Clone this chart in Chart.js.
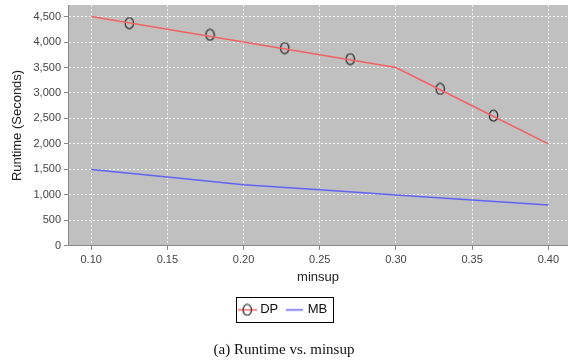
<!DOCTYPE html>
<html>
<head>
<meta charset="utf-8">
<script src="https://cdn.jsdelivr.net/npm/chart.js@4.4.1/dist/chart.umd.min.js"></script>
<style>
  body { margin: 0; background: #fff; }
  #runtimeChart { display: block; }
</style>
</head>
<body>
<canvas id="runtimeChart" width="568" height="362"></canvas>
<script>
// values
const minsup = [0.10, 0.15, 0.20, 0.25, 0.30, 0.35, 0.40];
const dpRuntime = [4500, 4250, 4000, 3750, 3500, 2750, 2000];
const mbRuntime = [1500, 1350, 1200, 1100, 1000, 900, 800];
// DP marker shapes sit along the line, between the vertices
const dpMarkerX = [0.125, 0.178, 0.227, 0.270, 0.329, 0.364];
const dpMarkerY = [4370, 4140, 3880, 3665, 3080, 2555];
const xTicks = [0.10, 0.15, 0.20, 0.25, 0.30, 0.35, 0.40];
const yTicks = [0, 500, 1000, 1500, 2000, 2500, 3000, 3500, 4000, 4500];

const sans = "'Liberation Sans', Arial, sans-serif";
const dpColor = '#f26262';
const mbColor = '#6262f6';

const makeEllipse = (w, h, withLine) => {
    const c = document.createElement('canvas');
    c.width = w;
    c.height = h;
    const ctx = c.getContext('2d');
    if (withLine) {
        ctx.strokeStyle = dpColor;
        ctx.lineWidth = 1.5;
        ctx.beginPath();
        ctx.moveTo(0, h / 2);
        ctx.lineTo(w, h / 2);
        ctx.stroke();
    }
    ctx.strokeStyle = '#1a1a1a';
    ctx.lineWidth = 1.1;
    ctx.beginPath();
    ctx.ellipse(w / 2, h / 2, 4.2, h / 2 - 1, 0, 0, Math.PI * 2);
    ctx.stroke();
    return c;
};

const makeLine = (w, h, color) => {
    const c = document.createElement('canvas');
    c.width = w;
    c.height = h;
    const ctx = c.getContext('2d');
    ctx.strokeStyle = color;
    ctx.lineWidth = 1.5;
    ctx.beginPath();
    ctx.moveTo(0, h / 2);
    ctx.lineTo(w, h / 2);
    ctx.stroke();
    return c;
};

const markerImg = makeEllipse(11, 13, false);
const dpLegendImg = makeEllipse(19, 13, true);
const mbLegendImg = makeLine(17, 13, mbColor);

const plotBackground = {
    id: 'plotBackground',
    beforeDraw(chart) {
        const { ctx, chartArea } = chart;
        ctx.save();
        ctx.fillStyle = '#c0c0c0';
        ctx.fillRect(chartArea.left, chartArea.top, chartArea.right - chartArea.left, chartArea.bottom - chartArea.top);
        ctx.restore();
    },
};

const legendFrame = {
    id: 'legendFrame',
    afterDraw(chart) {
        const boxes = chart.legend && chart.legend.legendHitBoxes;
        if (!boxes || !boxes.length) return;
        const left = Math.min(...boxes.map(b => b.left)) - 5;
        const right = Math.max(...boxes.map(b => b.left + b.width)) + 5;
        const top = Math.min(...boxes.map(b => b.top)) - 6;
        const bottom = Math.max(...boxes.map(b => b.top + b.height)) + 6;
        const ctx = chart.ctx;
        ctx.save();
        ctx.strokeStyle = '#000';
        ctx.lineWidth = 1;
        ctx.strokeRect(Math.round(left) + 0.5, Math.round(top) + 0.5, Math.round(right - left), Math.round(bottom - top));
        ctx.restore();
    },
};

new Chart(document.getElementById('runtimeChart'), {
    type: 'line',
    data: {
        datasets: [
            {
                label: 'DP',
                data: minsup.map((x, i) => ({ x, y: dpRuntime[i] })),
                borderColor: dpColor,
                borderWidth: 1.5,
                pointRadius: 0,
                pointStyle: dpLegendImg,
                tension: 0,
            },
            {
                label: 'MB',
                data: minsup.map((x, i) => ({ x, y: mbRuntime[i] })),
                borderColor: mbColor,
                borderWidth: 1.5,
                pointRadius: 0,
                pointStyle: mbLegendImg,
                tension: 0,
            },
            {
                label: 'DP markers',
                data: dpMarkerX.map((x, i) => ({ x, y: dpMarkerY[i] })),
                showLine: false,
                pointStyle: markerImg,
                pointRadius: 6,
            },
        ],
    },
    options: {
        responsive: false,
        animation: false,
        events: [],
        layout: { autoPadding: false, padding: { top: 5, left: 0, right: 0, bottom: 0 } },
        scales: {
            x: {
                type: 'linear',
                min: 0.0848,
                max: 0.4129,
                afterBuildTicks: scale => { scale.ticks = xTicks.map(v => ({ value: v })); },
                afterFit: scale => {
                    scale.height = 47.5;
                    scale.paddingLeft = 0;
                    scale.paddingRight = 0;
                },
                ticks: {
                    autoSkip: false,
                    maxRotation: 0,
                    padding: 3,
                    color: '#444',
                    font: { family: sans, size: 11 },
                    callback: v => v.toFixed(2),
                },
                grid: { color: '#f4f4f4', tickColor: '#888', tickLength: 4 },
                border: { color: '#888', dash: [2, 2] },
                title: {
                    display: true,
                    text: 'minsup',
                    color: '#222',
                    font: { family: sans, size: 13 },
                    padding: { top: 0, bottom: 7.7 },
                },
            },
            y: {
                min: 0,
                max: 4726,
                afterBuildTicks: scale => { scale.ticks = yTicks.map(v => ({ value: v })); },
                afterFit: scale => {
                    scale.width = 68;
                    scale.paddingTop = 0;
                    scale.paddingBottom = 0;
                },
                ticks: {
                    padding: 3,
                    color: '#444',
                    font: { family: sans, size: 11 },
                    callback: v => v.toLocaleString('en-US'),
                },
                grid: { color: '#f4f4f4', tickColor: '#888', tickLength: 4 },
                border: { color: '#888', dash: [2, 2] },
                title: {
                    display: true,
                    text: 'Runtime (Seconds)',
                    color: '#222',
                    font: { family: sans, size: 13 },
                    padding: { top: 10, bottom: 0 },
                },
            },
        },
        plugins: {
            legend: {
                position: 'bottom',
                labels: {
                    filter: item => item.text !== 'DP markers',
                    usePointStyle: true,
                    pointStyleWidth: 13,
                    boxHeight: 13,
                    padding: 10,
                    color: '#111',
                    font: { family: sans, size: 13 },
                },
            },
            title: {
                display: true,
                position: 'bottom',
                text: '(a) Runtime vs. minsup',
                color: '#111',
                font: { family: "'Liberation Serif', 'Times New Roman', serif", size: 15, weight: 'normal' },
                padding: { top: 14.5, bottom: 3.1 },
            },
            tooltip: { enabled: false },
        },
    },
    plugins: [plotBackground, legendFrame],
});
</script>
</body>
</html>
